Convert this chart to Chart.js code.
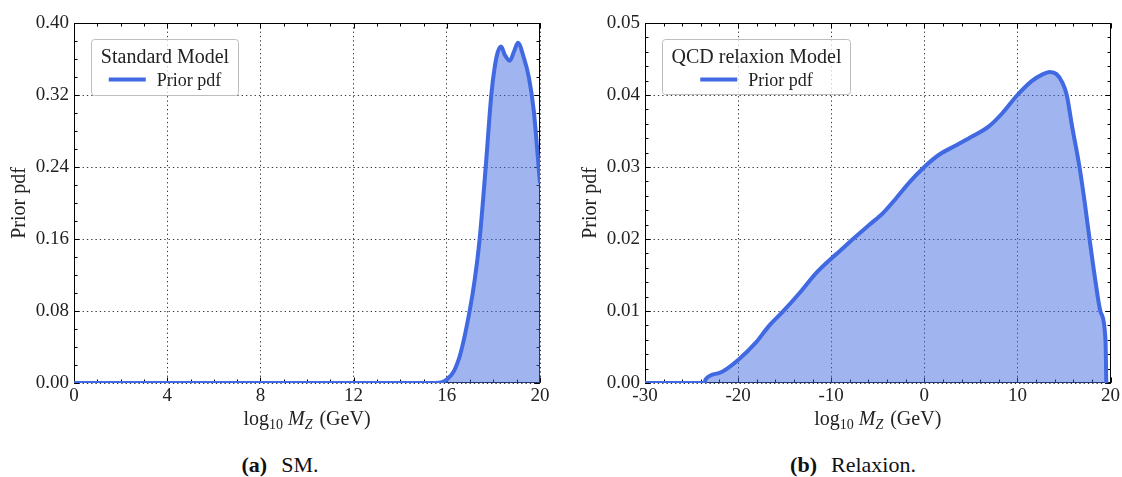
<!DOCTYPE html>
<html>
<head>
<meta charset="utf-8">
<script src="https://cdn.jsdelivr.net/npm/chart.js@4.4.0/dist/chart.umd.min.js"></script>
<style>
  html, body { margin: 0; padding: 0; background: #fff; }
  #wrap { position: relative; width: 1122px; height: 477px; overflow: hidden; }
  canvas { position: absolute; top: 0; }
  #smCanvas { left: 0; }
  #relCanvas { left: 561px; }
  .caption {
    position: absolute; top: 452px;
    font-family: "Liberation Serif", serif; font-size: 22px; color: #111;
    white-space: nowrap; transform: translateX(-50%);
  }
  .caption b { margin-right: 14px; }
</style>
</head>
<body>
<div id="wrap">
  <canvas id="smCanvas" width="561" height="430"></canvas>
  <canvas id="relCanvas" width="561" height="430"></canvas>
  <div class="caption" style="left:280px"><b>(a)</b>SM.</div>
  <div class="caption" style="left:853px"><b>(b)</b>Relaxion.</div>
</div>
<script>
'use strict';

// (a) Standard Model - prior pdf vs log10 MZ
var smX   = [0, 15.5, 15.8, 16.0, 16.3, 16.6, 16.98, 17.2, 17.41, 17.67, 17.91, 18.05, 18.19, 18.33, 18.5, 18.7, 18.88, 19.05, 19.3, 19.52, 19.73, 20];
var smPdf = [0, 0, 0.001, 0.004, 0.013, 0.034, 0.08, 0.115, 0.16, 0.24, 0.32, 0.35, 0.368, 0.374, 0.364, 0.358, 0.368, 0.378, 0.362, 0.34, 0.303, 0.222];
var smXTicks = [0, 4, 8, 12, 16, 20];
var smYTicks = [0, 0.08, 0.16, 0.24, 0.32, 0.40];

// (b) QCD relaxion model
var relX   = [-30, -23.6, -23.5, -22.0, -20.0, -18.1, -16.7, -15.2, -13.4, -11.6, -9.9, -9.1, -7.66, -5.87, -4.44, -3.0, -1.58, 0, 1.58, 3.54, 4.8, 6.9, 8.4, 10.0, 11.6, 12.6, 13.5, 14.2, 14.8, 15.3, 15.88, 16.67, 17.24, 17.75, 18.31, 18.93, 19.46, 19.55];
var relPdf = [0, 0, 0.0005, 0.0014, 0.0032, 0.0056, 0.0079, 0.0099, 0.0125, 0.0153, 0.0174, 0.0183, 0.0200, 0.0220, 0.0236, 0.0257, 0.0279, 0.0300, 0.0317, 0.0331, 0.0340, 0.0356, 0.0375, 0.0400, 0.0420, 0.0428, 0.0432, 0.0429, 0.0418, 0.0400, 0.0356, 0.0300, 0.0250, 0.0200, 0.0148, 0.0099, 0.0060, 0];
var relXTicks = [-30, -20, -10, 0, 10, 20];
var relYTicks = [0, 0.01, 0.02, 0.03, 0.04, 0.05];

var seriesLabel = 'Prior pdf';
var lineColor = '#4169E1';
var fillColor = 'rgba(65, 105, 225, 0.5)';
var serif = '"Liberation Serif", "DejaVu Serif", serif';
var textColor = '#222';

function toPoints(xs, ys) {
    var pts = [];
    for (var i = 0; i < xs.length; i++) pts.push({ x: xs[i], y: ys[i] });
    return pts;
}

function fixedTicks(list) {
    return function(scale) {
        scale.ticks = list.map(function(v) { return { value: v }; });
    };
}

// frame + inward ticks on all four sides (major and minor)
var frameTicks = {
    id: 'frameTicks',
    beforeDatasetsDraw: function(chart, args, opts) {
        var ctx = chart.ctx, a = chart.chartArea;
        var xs = chart.scales.x, ys = chart.scales.y;
        var L = Math.round(a.left) + 0.5, R = Math.round(a.right) - 0.5;
        var T = Math.round(a.top) + 0.5, B = Math.round(a.bottom) - 0.5;
        ctx.save();
        ctx.strokeStyle = '#000';
        ctx.lineWidth = 1;
        ctx.beginPath();
        function xTick(v, len) {
            var px = Math.round(xs.getPixelForValue(v)) + 0.5;
            ctx.moveTo(px, B); ctx.lineTo(px, B - len);
            ctx.moveTo(px, T); ctx.lineTo(px, T + len);
        }
        function yTick(v, len) {
            var py = Math.round(ys.getPixelForValue(v)) + 0.5;
            ctx.moveTo(L, py); ctx.lineTo(L + len, py);
            ctx.moveTo(R, py); ctx.lineTo(R - len, py);
        }
        var v;
        for (v = xs.min; v <= xs.max + 1e-9; v += opts.xMinor) xTick(v, 3);
        for (v = ys.min; v <= ys.max + 1e-9; v += opts.yMinor) yTick(v, 3);
        xs.ticks.forEach(function(t) { xTick(t.value, 5); });
        ys.ticks.forEach(function(t) { yTick(t.value, 5); });
        ctx.stroke();
        ctx.strokeRect(L, T, R - L, B - T);
        ctx.restore();
    }
};

// x axis title: log10 MZ (GeV) with subscripts
var xTitle = {
    id: 'xTitle',
    afterDraw: function(chart) {
        var ctx = chart.ctx, a = chart.chartArea;
        var parts = [
            { t: 'log', f: '20px ' + serif, dy: 0 },
            { t: '10', f: '14px ' + serif, dy: 4, gap: 5 },
            { t: 'M', f: 'italic 20px ' + serif, dy: 0 },
            { t: 'Z', f: 'italic 14px ' + serif, dy: 4, gap: 7 },
            { t: '(GeV)', f: '20px ' + serif, dy: 0 }
        ];
        ctx.save();
        var total = 0;
        parts.forEach(function(p) {
            ctx.font = p.f;
            p.w = ctx.measureText(p.t).width;
            total += p.w + (p.gap || 0);
        });
        var x = (a.left + a.right) / 2 - total / 2;
        var base = 425;
        ctx.fillStyle = textColor;
        ctx.textAlign = 'left';
        ctx.textBaseline = 'alphabetic';
        parts.forEach(function(p) {
            ctx.font = p.f;
            ctx.fillText(p.t, x, base + p.dy);
            x += p.w + (p.gap || 0);
        });
        ctx.restore();
    }
};

// legend box with title, like the matplotlib one
var boxLegend = {
    id: 'boxLegend',
    afterDraw: function(chart, args, opts) {
        var ctx = chart.ctx, a = chart.chartArea, ds = chart.data.datasets[0];
        var x = Math.round(a.left + opts.dx) + 0.5, y = Math.round(a.top + opts.dy) + 0.5;
        ctx.save();
        ctx.beginPath();
        ctx.roundRect(x, y, opts.w, opts.h, 3);
        ctx.fillStyle = 'rgba(255,255,255,0.75)';
        ctx.fill();
        ctx.strokeStyle = '#bdbdbd';
        ctx.lineWidth = 1;
        ctx.stroke();

        ctx.fillStyle = textColor;
        ctx.font = '20px ' + serif;
        ctx.textAlign = 'center';
        ctx.textBaseline = 'alphabetic';
        ctx.fillText(opts.title, x + opts.w / 2, y + 23);

        ctx.font = '18px ' + serif;
        var tw = ctx.measureText(ds.label).width;
        var ex = x + (opts.w - (37 + 11 + tw)) / 2;
        ctx.strokeStyle = ds.borderColor;
        ctx.lineWidth = 4;
        ctx.beginPath();
        ctx.moveTo(ex, y + 40);
        ctx.lineTo(ex + 37, y + 40);
        ctx.stroke();
        ctx.textAlign = 'left';
        ctx.fillText(ds.label, ex + 48, y + 46);
        ctx.restore();
    }
};

function makeChart(canvasId, cfg) {
    var canvas = document.getElementById(canvasId);
    if (!canvas) return;

    return new Chart(canvas.getContext('2d'), {
        type: 'line',
        data: {
            datasets: [{
                label: seriesLabel,
                data: toPoints(cfg.xs, cfg.ys),
                borderColor: lineColor,
                backgroundColor: fillColor,
                borderWidth: 4,
                fill: 'origin',
                pointRadius: 0,
                cubicInterpolationMode: 'monotone',
                borderJoinStyle: 'round'
            }]
        },
        options: {
            responsive: false,
            animation: false,
            layout: { padding: { left: 0, top: 23, right: cfg.padRight, bottom: 0 } },
            scales: {
                x: {
                    type: 'linear',
                    min: cfg.xTicks[0],
                    max: cfg.xTicks[cfg.xTicks.length - 1],
                    afterBuildTicks: fixedTicks(cfg.xTicks),
                    afterFit: function(s) { s.height = 47; },
                    grid: { color: 'rgba(0,0,0,0.8)', lineWidth: 1, drawTicks: false },
                    border: { display: false, dash: [1.3, 3] },
                    ticks: {
                        font: { family: serif, size: 19 },
                        color: textColor,
                        padding: 2,
                        maxRotation: 0,
                        autoSkip: false
                    }
                },
                y: {
                    type: 'linear',
                    min: cfg.yTicks[0],
                    max: cfg.yTicks[cfg.yTicks.length - 1],
                    afterBuildTicks: fixedTicks(cfg.yTicks),
                    afterFit: function(s) { s.width = cfg.yWidth; },
                    grid: { color: 'rgba(0,0,0,0.8)', lineWidth: 1, drawTicks: false },
                    border: { display: false, dash: [1.3, 3] },
                    ticks: {
                        font: { family: serif, size: 19 },
                        color: textColor,
                        padding: 5,
                        callback: function(v) { return Number(v).toFixed(2); }
                    },
                    title: {
                        display: true,
                        text: 'Prior pdf',
                        font: { family: serif, size: 20 },
                        color: textColor,
                        padding: { top: cfg.titlePad, bottom: 0 }
                    }
                }
            },
            plugins: {
                legend: { display: false },
                tooltip: { enabled: false },
                frameTicks: { xMinor: cfg.xMinor, yMinor: cfg.yMinor },
                boxLegend: cfg.legend
            }
        },
        plugins: [frameTicks, xTitle, boxLegend]
    });
}

makeChart('smCanvas', {
    xs: smX, ys: smPdf,
    xTicks: smXTicks, yTicks: smYTicks,
    xMinor: 1, yMinor: 0.02,
    yWidth: 74, padRight: 21, titlePad: 8,
    legend: { title: 'Standard Model', dx: 17, dy: 16, w: 147, h: 56 }
});

makeChart('relCanvas', {
    xs: relX, ys: relPdf,
    xTicks: relXTicks, yTicks: relYTicks,
    xMinor: 2, yMinor: 0.002,
    yWidth: 84, padRight: 10, titlePad: 18,
    legend: { title: 'QCD relaxion Model', dx: 17, dy: 16, w: 188, h: 55 }
});
</script>
</body>
</html>
